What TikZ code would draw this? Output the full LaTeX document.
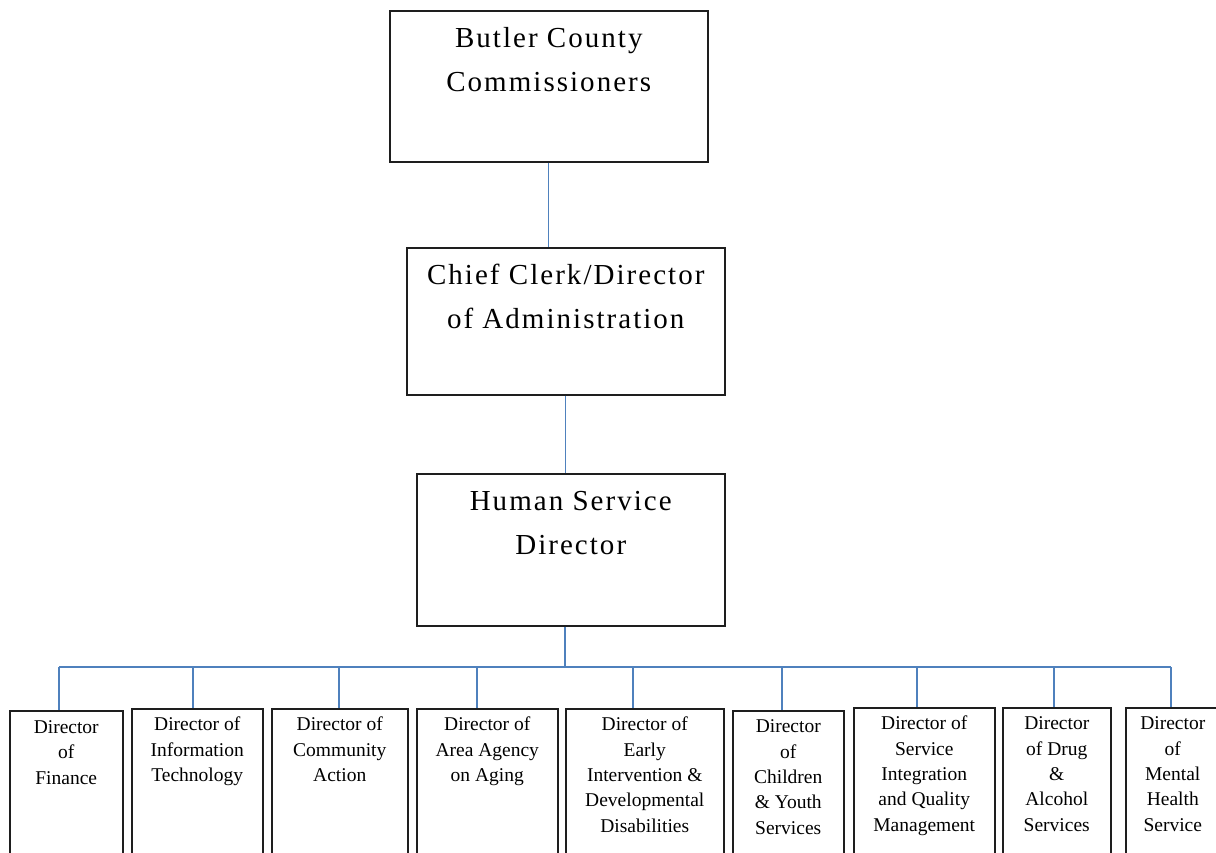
\documentclass[tikz,border=0pt]{standalone}
\usepackage{fontspec}
\setmainfont{Liberation Serif}
\definecolor{connblue}{RGB}{79,129,189}
\definecolor{boxline}{RGB}{30,30,30}
\begin{document}
\begin{tikzpicture}[x=1pt,y=-1pt,
  box/.style={draw=boxline,line width=1.5pt,rectangle,inner sep=0pt,anchor=north west},
  conn/.style={draw=connblue,line width=1.4pt},
  bigtxt/.style={anchor=north,inner sep=0pt,align=center,font=\fontsize{29}{44}\selectfont\addfontfeature{LetterSpace=7}},
  smalltxt/.style={anchor=north,inner sep=0pt,align=center,font=\fontsize{19.5}{25.3}\selectfont}]
\useasboundingbox (0,0) rectangle (1216,852);
\clip (0,0) rectangle (1216,852);
\fill[white] (0,0) rectangle (1216,852);

% upper boxes
\node[box,minimum width=318pt,minimum height=151pt] (bcc) at (389,10) {};
\node[box,minimum width=318pt,minimum height=147pt] (ccd) at (406,247) {};
\node[box,minimum width=308pt,minimum height=152pt] (hsd) at (416,473) {};

\node[bigtxt,yshift=-6pt] (tbcc) at (bcc.north) {\strut Butler County\\Commissioners};
\node[bigtxt,yshift=-6pt] (tccd) at (ccd.north) {\strut Chief Clerk/Director\\of Administration};
\node[bigtxt,yshift=-6pt] (thsd) at (hsd.north) {\strut Human Service\\Director};

% connectors between upper boxes
\draw[conn] (bcc.south) -- (bcc.south |- ccd.north);
\draw[conn] (ccd.south) -- (ccd.south |- hsd.north);

% bus
\coordinate (hb) at (565,667);
\draw[conn] (hsd.south -| hb) -- (hb);
\coordinate (j1) at (59,667);
\coordinate (j2) at (193,667);
\coordinate (j3) at (339,667);
\coordinate (j4) at (477,667);
\coordinate (j5) at (633,667);
\coordinate (j6) at (782,667);
\coordinate (j7) at (917,667);
\coordinate (j8) at (1054,667);
\coordinate (j9) at (1171,667);
\draw[conn] (j1) -- (j9);

% bottom boxes
\node[box,minimum width=113pt,minimum height=170pt] (b1) at (9,710) {};
\node[box,minimum width=131pt,minimum height=170pt] (b2) at (131,708) {};
\node[box,minimum width=136pt,minimum height=170pt] (b3) at (271,708) {};
\node[box,minimum width=141pt,minimum height=170pt] (b4) at (416,708) {};
\node[box,minimum width=158pt,minimum height=170pt] (b5) at (565,708) {};
\node[box,minimum width=111pt,minimum height=170pt] (b6) at (732,710) {};
\node[box,minimum width=141pt,minimum height=170pt] (b7) at (853,707) {};
\node[box,minimum width=108pt,minimum height=170pt] (b8) at (1002,707) {};
\node[box,minimum width=95pt,minimum height=170pt] (b9) at (1125,707) {};

\foreach \i in {1,...,9} {\draw[conn] (j\i) -- (j\i |- b\i.north);}

\node[smalltxt,yshift=-5.5pt] (t1) at (b1.north) {\strut Director\\of\\Finance};
\node[smalltxt,yshift=-5pt] (t2) at (b2.north) {\strut Director of\\Information\\Technology};
\node[smalltxt,yshift=-5pt] (t3) at (b3.north) {\strut Director of\\Community\\Action};
\node[smalltxt,yshift=-5pt] (t4) at (b4.north) {\strut Director of\\Area Agency\\on Aging};
\node[smalltxt,yshift=-5pt] (t5) at (b5.north) {\strut Director of\\Early\\Intervention \&\\Developmental\\Disabilities};
\node[smalltxt,yshift=-5pt] (t6) at (b6.north) {\strut Director\\of\\Children\\\& Youth\\Services};
\node[smalltxt,yshift=-5pt] (t7) at (b7.north) {\strut Director of\\Service\\Integration\\and Quality\\Management};
\node[smalltxt,yshift=-5pt] (t8) at (b8.north) {\strut Director\\of Drug\\\&\\Alcohol\\Services};
\node[smalltxt,yshift=-5pt,xshift=-0.5pt] (t9) at (b9.north) {\strut Director\\of\\Mental\\Health\\Service};
\end{tikzpicture}
\end{document}
